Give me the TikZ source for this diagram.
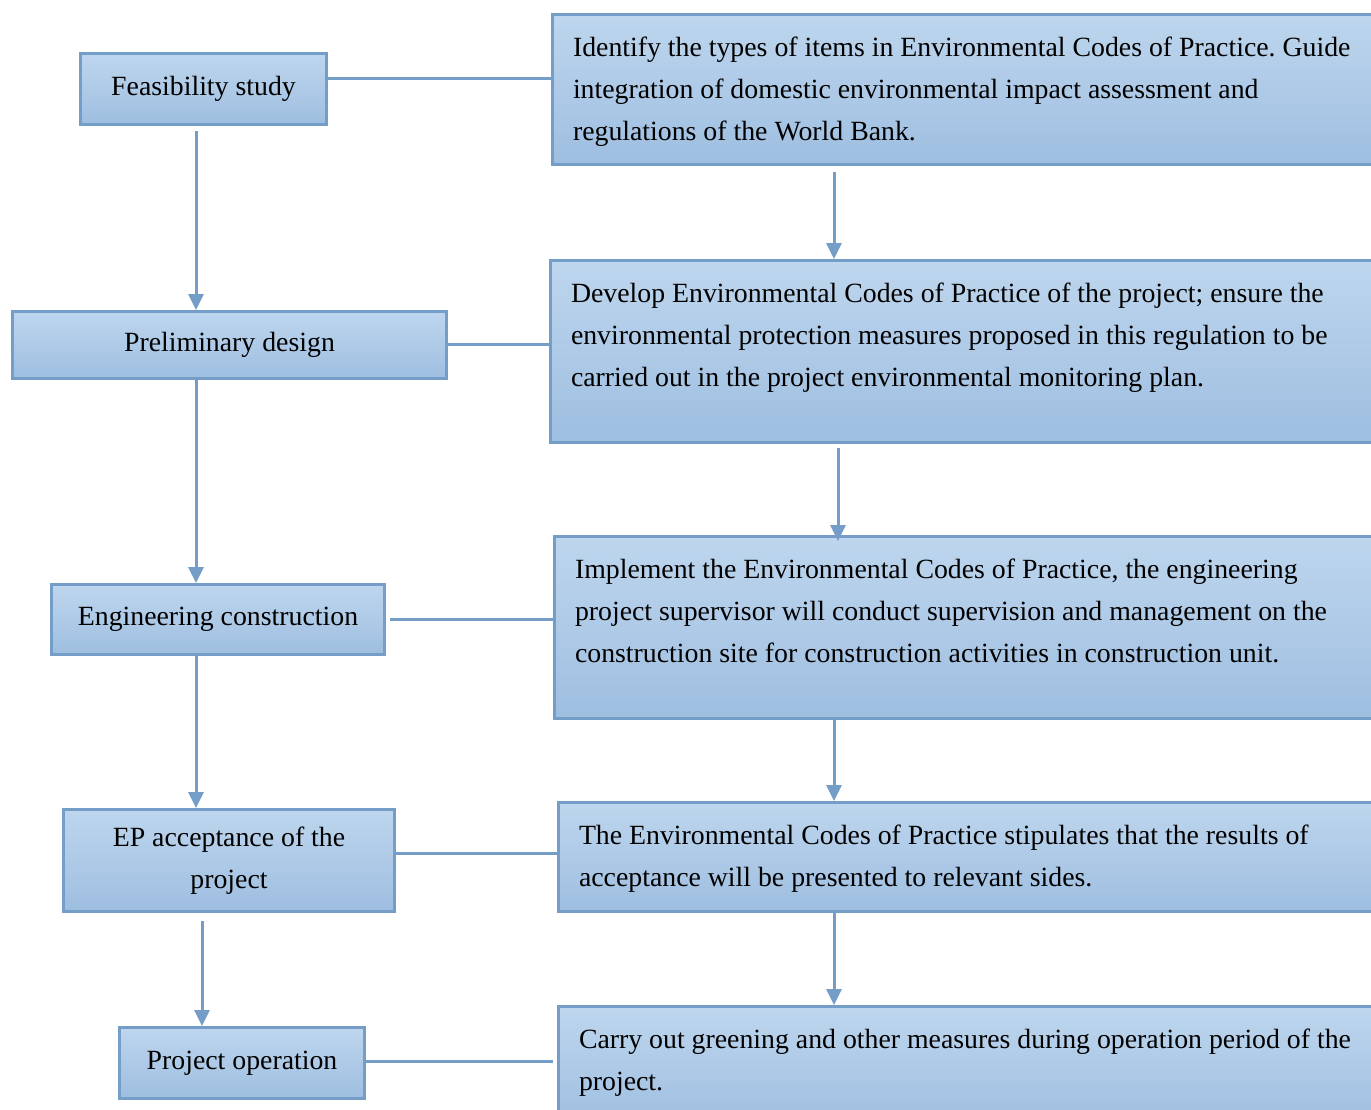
\documentclass[tikz,border=0pt]{standalone}
\usepackage{fontspec}
\setmainfont{Liberation Serif}
\usetikzlibrary{arrows.meta}
\definecolor{boxtop}{RGB}{190,214,238}
\definecolor{boxbot}{RGB}{158,190,224}
\definecolor{edge}{RGB}{116,157,199}
\frenchspacing
% left-aligned text block of a fixed height, set from the top
\newcommand\rtxt[2]{\parbox[c][#1][t]{440pt}{\leftskip=10.5pt\relax\vspace*{6.3pt}#2}}

\begin{document}
\begin{tikzpicture}[x=0.5pt,y=-0.5pt,
  box/.style={draw=edge, line width=1.5pt, top color=boxtop, bottom color=boxbot,
    inner sep=0pt, font=\fontsize{13.9}{21}\selectfont},
  stage/.style={box, align=center},
  note/.style={box, anchor=north west},
  link/.style={draw=edge, line width=1.5pt},
  arr/.style={link, -{Triangle[length=8pt,width=7.5pt]}}]

\useasboundingbox (0,0) rectangle (1371,1109);
\fill[white] (0,0) rectangle (1371,1109);
\clip (0,0) rectangle (1371,1109);

% project stages
\node[stage, minimum width=123pt, minimum height=35.5pt] (feas) at (203.5,89) {Feasibility study};
\node[stage, minimum width=217pt, minimum height=33.5pt] (prel) at (229.5,345) {Preliminary design};
\node[stage, minimum width=166.5pt, minimum height=35pt] (eng) at (218,619.5) {Engineering construction};
\node[stage, minimum width=165.5pt, minimum height=51pt] (ep) at (229,860.5) {EP acceptance of the\\project};
\node[stage, minimum width=122.5pt, minimum height=35.5pt] (op) at (242,1063) {Project operation};

% environmental tasks of each stage
\node[note] (r1) at (550.5,13) {\rtxt{74.8pt}{%
\strut Identify the types of items in Environmental Codes of Practice. Guide\\
\strut integration of domestic environmental impact assessment and\\
\strut regulations of the World Bank.}};
\node[note] (r2) at (548.5,259) {\rtxt{90.8pt}{%
\strut Develop Environmental Codes of Practice of the project; ensure the\\
\strut environmental protection measures proposed in this regulation to be\\
\strut carried out in the project environmental monitoring plan.}};
\node[note] (r3) at (552.5,535) {\rtxt{90.8pt}{%
\strut Implement the Environmental Codes of Practice, the engineering\\
\strut project supervisor will conduct supervision and management on the\\
\strut construction site for construction activities in construction unit.}};
\node[note] (r4) at (556.5,801) {\rtxt{54.3pt}{%
\strut The Environmental Codes of Practice stipulates that the results of\\
\strut acceptance will be presented to relevant sides.}};
\node[note] (r5) at (556.5,1005) {\rtxt{60pt}{%
\strut Carry out greening and other measures during operation period of the\\
\strut project.}};

% columns and rows of the connectors
\coordinate (c1) at (196,0);
\coordinate (c2) at (202,0);
\coordinate (c3) at (834,0);
\coordinate (c4) at (838,0);
\coordinate (h1) at (0,78);
\coordinate (h2) at (0,344);
\coordinate (h3) at (0,619);
\coordinate (h4) at (0,853);
\coordinate (h5) at (0,1061);

% stage sequence
\draw[arr, shorten <=2.5pt] (feas.south -| c1) -- (prel.north -| c1);
\draw[arr] (prel.south -| c1) -- (eng.north -| c1);
\draw[arr] (eng.south -| c1) -- (ep.north -| c1);
\draw[arr, shorten <=4pt] (ep.south -| c2) -- (op.north -| c2);

% task sequence
\draw[arr, shorten <=3pt] (r1.south -| c3) -- (r2.north -| c3);
\draw[arr, shorten <=2pt] (r2.south -| c4) -- ([yshift=-3pt]r3.north -| c4);
\draw[arr] (r3.south -| c3) -- (r4.north -| c3);
\draw[arr] (r4.south -| c3) -- (r5.north -| c3);

% stage to task links
\draw[link] (feas.east |- h1) -- (r1.west |- h1);
\draw[link] (prel.east |- h2) -- (r2.west |- h2);
\draw[link] ([xshift=2pt]eng.east |- h3) -- (r3.west |- h3);
\draw[link] (ep.east |- h4) -- (r4.west |- h4);
\draw[link] (op.east |- h5) -- ([xshift=-2pt]r5.west |- h5);
\end{tikzpicture}
\end{document}
